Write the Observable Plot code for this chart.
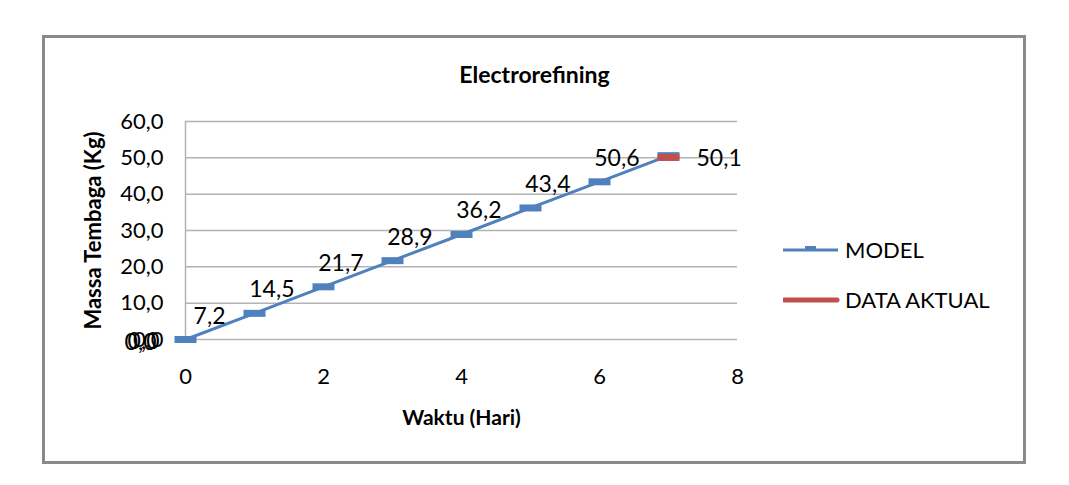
<!DOCTYPE html>
<html>
<head>
<meta charset="utf-8">
<script src="https://cdn.jsdelivr.net/npm/d3@7"></script>
<script src="https://cdn.jsdelivr.net/npm/@observablehq/plot@0.6"></script>
<style>
  html, body { margin: 0; padding: 0; background: #fff; }
  #wrap { position: relative; width: 1069px; height: 485px; overflow: hidden; font-family: Lato, "Open Sans", sans-serif; }
  #border { position: absolute; left: 42px; top: 35px; width: 978px; height: 423px; border: 3px solid #8a8a8a; box-sizing: content-box; }
  #chart { position: absolute; left: 0; top: 0; }
  #title { position: absolute; left: 0; width: 1069px; top: 60px; text-align: center; font-weight: bold; font-size: 23px; color: #000; }
  .leg { position: absolute; left: 783px; display: flex; align-items: center; font-size: 22px; color: #000; }
  .leg svg { margin-right: 5px; }
</style>
</head>
<body>
<div id="wrap">
  <div id="chart"></div>
  <div id="border"></div>
  <div id="title"></div>
  <div id="legend"></div>
</div>
<script>
const chartTitle = "Electrorefining";
const xLabel = "Waktu (Hari)";
const yLabel = "Massa Tembaga (Kg)";
const seriesNames = ["MODEL", "DATA AKTUAL"];
const seriesColors = ["#4F81BD", "#C0504D"];

const days = [0, 1, 2, 3, 4, 5, 6, 7];
const modelValues = [0.0, 7.2, 14.5, 21.7, 28.9, 36.2, 43.4, 50.6];
const aktualDays = [0, 7];
const aktualValues = [0.0, 50.1];

const xTicks = [0, 2, 4, 6, 8];
const yTicks = [0, 10, 20, 30, 40, 50, 60];

const model = days.map((d, i) => ({x: d, y: modelValues[i]}));
const aktual = aktualDays.map((d, i) => ({x: d, y: aktualValues[i]}));

const fmt = v => v.toFixed(1).replace(".", ",");

const dash = {
  draw(ctx) { ctx.rect(-11, -3.5, 22, 7); }
};

const plot = Plot.plot({
  width: 1069,
  height: 485,
  marginLeft: 185,
  marginRight: 332,
  marginTop: 121,
  marginBottom: 146,
  style: { fontFamily: "Lato, 'Open Sans', sans-serif", fontSize: "22px", color: "#000", background: "transparent" },
  x: { domain: [0, 8] },
  y: { domain: [0, 60] },
  marks: [
    Plot.gridY(yTicks, { stroke: "#b3b3b3", strokeOpacity: 1, strokeWidth: 1.5 }),
    Plot.ruleX([0], { stroke: "#b3b3b3", strokeWidth: 1.5 }),
    Plot.axisY({ ticks: yTicks, tickFormat: fmt, tickSize: 0, tickPadding: 22, label: null, fontSize: 22 }),
    Plot.axisX({ ticks: xTicks, tickFormat: d => String(d), tickSize: 0, tickPadding: 29, label: null, fontSize: 22 }),
    Plot.text([xLabel], { frameAnchor: "bottom", dy: 85, fontWeight: "bold", fontSize: 21, lineAnchor: "bottom" }),
    Plot.text([yLabel], { frameAnchor: "left", textAnchor: "middle", dx: -92, rotate: -90, fontWeight: "bold", fontSize: 22 }),
    Plot.line(model, { x: "x", y: "y", stroke: seriesColors[0], strokeWidth: 3 }),
    Plot.dot(model, { x: "x", y: "y", symbol: dash, fill: seriesColors[0], stroke: "none" }),
    Plot.dot(aktual.filter(d => d.y > 0), { x: "x", y: "y", symbol: dash, fill: seriesColors[1], stroke: "none" }),
    Plot.text(model, { x: "x", y: "y", text: d => fmt(d.y), textAnchor: "end", dx: -29, dy: 3, fontSize: 23 }),
    Plot.text(aktual.filter(d => d.y === 0), { x: "x", y: "y", text: d => fmt(d.y), textAnchor: "end", dx: -26, dy: 2, fontSize: 23 }),
    Plot.text(aktual.filter(d => d.y > 0), { x: "x", y: "y", text: d => fmt(d.y), textAnchor: "start", dx: 28, dy: 1, fontSize: 23 })
  ]
});
document.getElementById("chart").appendChild(plot);
document.getElementById("title").textContent = chartTitle;

const legend = document.getElementById("legend");
const legTops = [236, 286];
seriesNames.forEach((name, i) => {
  const div = document.createElement("div");
  div.className = "leg";
  div.style.top = legTops[i] + "px";
  const marker = i === 0
    ? `<rect x="22" y="8" width="11" height="3" fill="${seriesColors[i]}"/><line x1="0" x2="55" y1="12" y2="12" stroke="${seriesColors[i]}" stroke-width="3"/>`
    : `<line x1="1" x2="54" y1="12" y2="12" stroke="${seriesColors[i]}" stroke-width="5" stroke-linecap="round"/>`;
  div.innerHTML = `<svg width="57" height="24">${marker}</svg><span>${name}</span>`;
  legend.appendChild(div);
});
</script>
</body>
</html>
